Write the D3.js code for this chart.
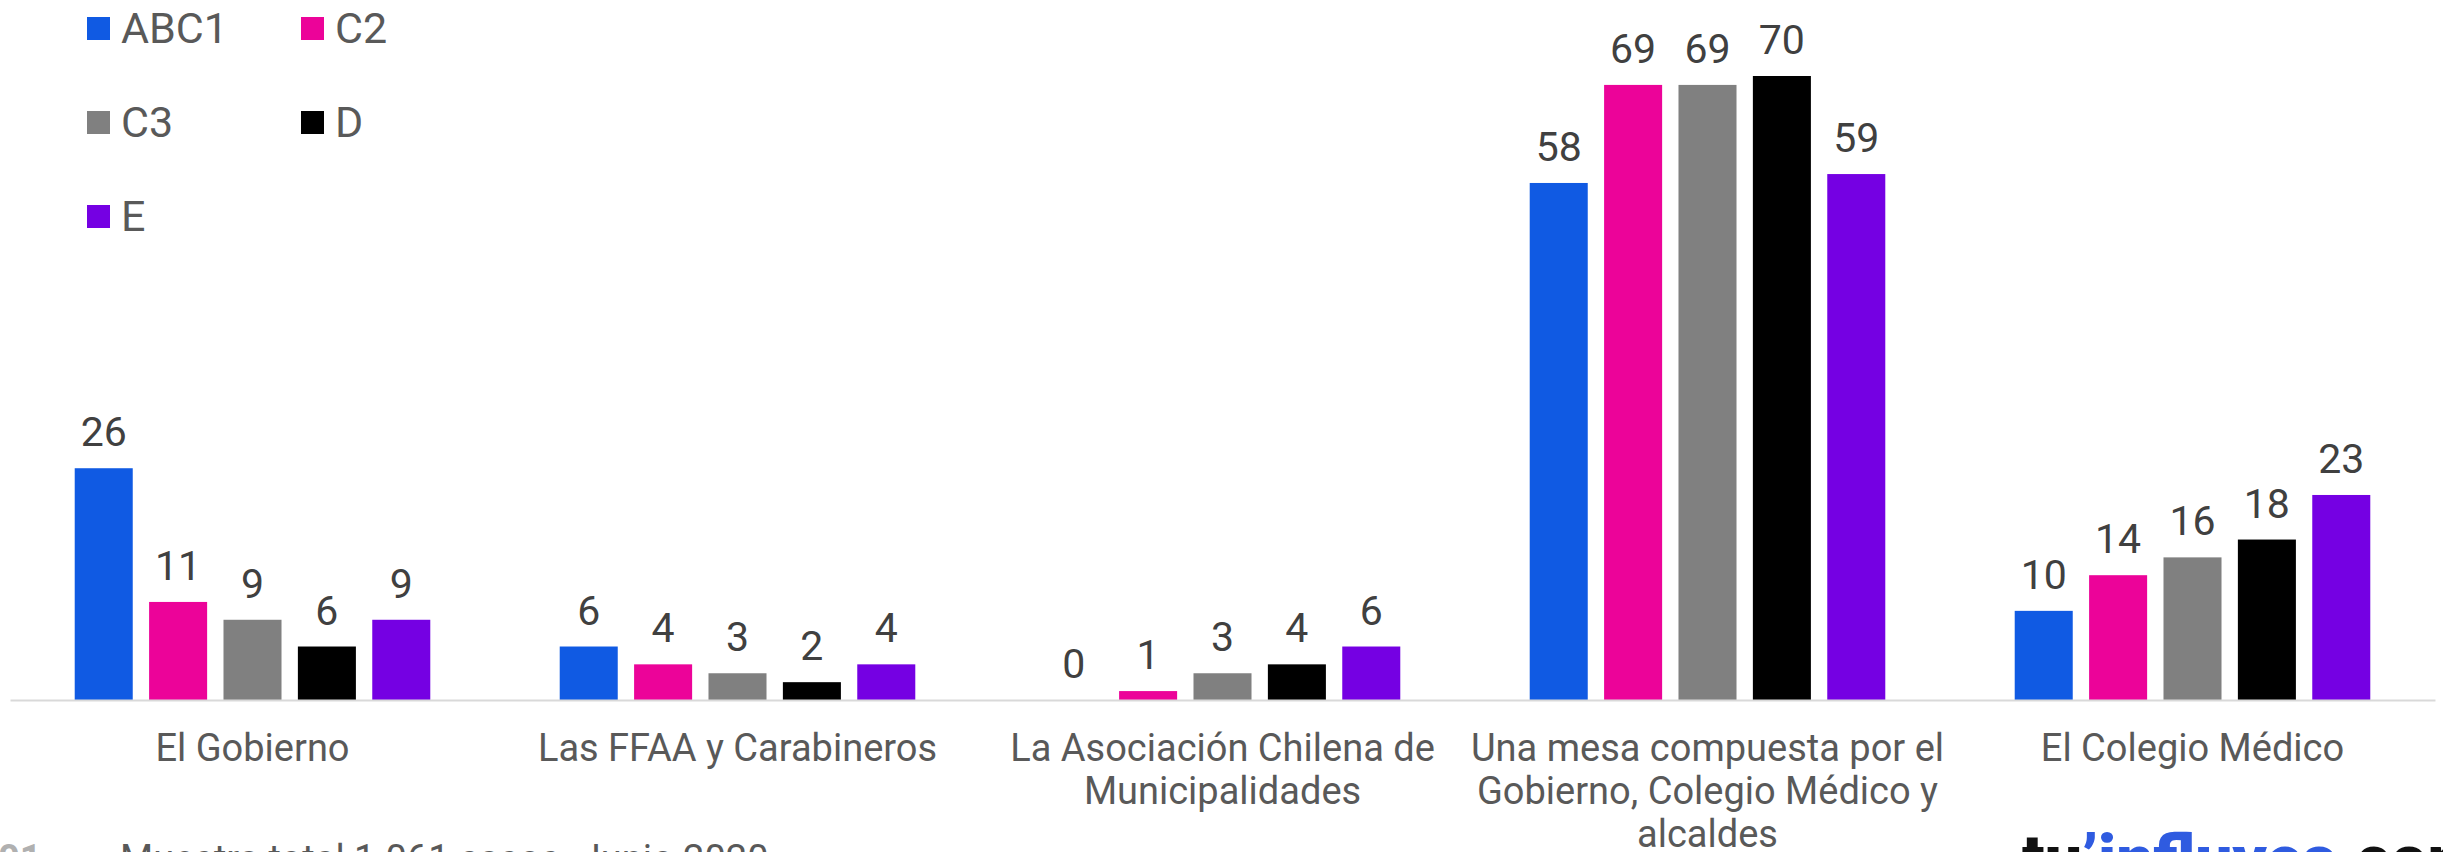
<!DOCTYPE html>
<html lang="es">

<head>
    <meta charset="UTF-8">
    <title>Grupos socioeconómicos</title>
    <script src="https://d3js.org/d3.v7.min.js"></script>
    <style>
        body {
            margin: 0;
            background: #fff;
        }
        svg * {
            font-family: 'Roboto', sans-serif;
        }
        svg {
            display: block;
        }
    </style>
</head>

<body>

    <svg></svg>

    <script>
        const categories = ['El Gobierno', 'Las FFAA y Carabineros', 'La Asociación Chilena de Municipalidades',
            'Una mesa compuesta por el Gobierno, Colegio Médico y alcaldes', 'El Colegio Médico'];
        const seriesNames = ['ABC1', 'C2', 'C3', 'D', 'E'];
        const abc1 = [26, 6, 0, 58, 10];
        const c2 = [11, 4, 1, 69, 14];
        const c3 = [9, 3, 3, 69, 16];
        const d = [6, 2, 4, 70, 18];
        const e = [9, 4, 6, 59, 23];
        const colors = ['#105AE3', '#EC0399', '#808080', '#000000', '#7500E3'];

        const allSeries = [abc1, c2, c3, d, e];

        const width = 2443;
        const height = 852;
        const svg = d3.select("svg")
            .attr("width", width)
            .attr("height", height);

        const baseY = 700;

        const x0 = d3.scaleBand()
            .domain(categories)
            .range([10, 2435])
            .padding(0);

        const x1 = d3.scaleBand()
            .domain(seriesNames)
            .range([0, x0.bandwidth()])
            .paddingInner(0.22)
            .paddingOuter(0.87);

        const y = d3.scaleLinear()
            .domain([0, 70])
            .range([baseY, 76]);

        // bars
        const groups = svg.selectAll("g.grp")
            .data(categories)
            .enter().append("g")
            .attr("class", "grp")
            .attr("transform", c => `translate(${x0(c)},0)`);

        groups.selectAll("rect")
            .data((c, i) => seriesNames.map((s, j) => ({ s: s, v: allSeries[j][i], color: colors[j] })))
            .enter().append("rect")
            .attr("x", o => x1(o.s))
            .attr("y", o => y(o.v))
            .attr("width", x1.bandwidth())
            .attr("height", o => baseY - y(o.v))
            .attr("fill", o => o.color);

        groups.selectAll("text.value")
            .data((c, i) => seriesNames.map((s, j) => ({ s: s, v: allSeries[j][i] })))
            .enter().append("text")
            .attr("class", "value")
            .attr("x", o => x1(o.s) + x1.bandwidth() / 2)
            .attr("y", o => y(o.v) - 22)
            .attr("text-anchor", "middle")
            .attr("font-size", 41)
            .attr("fill", "#404040")
            .text(o => o.v);

        // axis
        const xAxis = svg.append("g")
            .attr("transform", `translate(0,${baseY})`)
            .call(d3.axisBottom(x0).tickSize(0).tickPadding(0));
        xAxis.select(".domain").attr("stroke", "#d9d9d9").attr("stroke-width", 2);
        xAxis.selectAll(".tick text")
            .attr("font-size", 38)
            .attr("fill", "#595959")
            .attr("dy", null)
            .attr("y", 61)
            .call(wrap, x0.bandwidth() + 10);

        function wrap(sel, w) {
            sel.each(function () {
                const t = d3.select(this);
                const words = t.text().split(/\s+/);
                t.text(null);
                let line = [];
                let lineNo = 0;
                let tspan = t.append("tspan").attr("x", 0).attr("y", 61);
                words.forEach(word => {
                    line.push(word);
                    tspan.text(line.join(" "));
                    if (tspan.node().getComputedTextLength() > w && line.length > 1) {
                        line.pop();
                        tspan.text(line.join(" "));
                        line = [word];
                        lineNo++;
                        tspan = t.append("tspan").attr("x", 0).attr("y", 61 + lineNo * 43).text(word);
                    }
                });
            });
        }

        // legend
        const legend = svg.append("g");
        seriesNames.forEach((s, i) => {
            const col = i % 2;
            const row = Math.floor(i / 2);
            const g = legend.append("g")
                .attr("transform", `translate(${87 + col * 214},${17 + row * 94})`);
            g.append("rect")
                .attr("width", 23)
                .attr("height", 23)
                .attr("fill", colors[i]);
            g.append("text")
                .attr("x", 34)
                .attr("y", 26)
                .attr("font-size", 43)
                .attr("fill", "#595959")
                .text(s);
        });

        // footer (cut by the bottom edge)
        svg.append("text")
            .attr("x", -2)
            .attr("y", 872)
            .attr("font-size", 38)
            .attr("font-weight", "bold")
            .attr("fill", "#b0b0b0")
            .text("01");
        svg.append("text")
            .attr("x", 120)
            .attr("y", 872)
            .attr("font-size", 38)
            .attr("fill", "#595959")
            .text("Muestra total 1.061 casos. Junio 2020");

        const logo = svg.append("text")
            .attr("x", 2022)
            .attr("y", 882)
            .attr("font-size", 66)
            .attr("font-weight", 900);
        logo.append("tspan").attr("fill", "#111").text("tu");
        logo.append("tspan").attr("fill", "#2F5BE0").text("’influyes");
        logo.append("tspan").attr("fill", "#111").text(".com");
    </script>

</body>

</html>
